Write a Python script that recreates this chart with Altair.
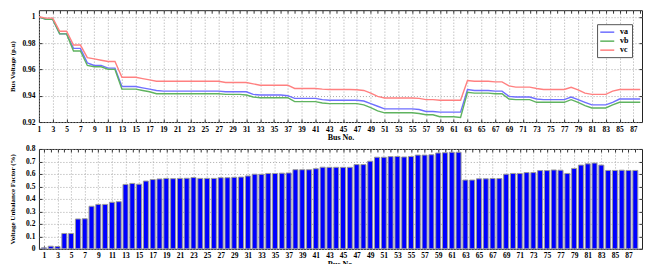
import altair as alt
import pandas as pd

bus = list(range(1, 90))
x_ticks = list(range(1, 90, 2))
phases = ["va", "vb", "vc"]
phase_colors = ["#6f6fff", "#5fb35f", "#ff8080"]
v_ticks = [0.92, 0.94, 0.96, 0.98, 1.0]
u_ticks = [0, 0.1, 0.2, 0.3, 0.4, 0.5, 0.6, 0.7, 0.8]

va = [1.000, 0.998, 0.998, 0.987, 0.987, 0.976, 0.976, 0.965, 0.963, 0.963,
      0.961, 0.961, 0.947, 0.947, 0.947, 0.946, 0.945, 0.944, 0.9435, 0.9435,
      0.9435, 0.9435, 0.9435, 0.9435, 0.9435, 0.9435, 0.9435, 0.943, 0.943, 0.943,
      0.943, 0.941, 0.9405, 0.9405, 0.9405, 0.9405, 0.940, 0.938, 0.938, 0.938,
      0.938, 0.937, 0.9365, 0.9365, 0.9365, 0.9365, 0.9365, 0.936, 0.934, 0.932,
      0.930, 0.930, 0.930, 0.930, 0.930, 0.9295, 0.928, 0.928, 0.9275, 0.9275,
      0.9275, 0.9275, 0.9447, 0.944, 0.944, 0.944, 0.9435, 0.9435, 0.9395, 0.939,
      0.939, 0.939, 0.9375, 0.937, 0.937, 0.937, 0.937, 0.939, 0.937, 0.935,
      0.933, 0.933, 0.933, 0.935, 0.9375, 0.9375, 0.9375, 0.9375, 0.9375]

vb = [1.000, 0.998, 0.998, 0.987, 0.987, 0.974, 0.974, 0.963, 0.962, 0.962,
      0.960, 0.960, 0.945, 0.945, 0.945, 0.944, 0.943, 0.9415, 0.9415, 0.9415,
      0.9415, 0.9415, 0.9415, 0.9415, 0.9415, 0.9415, 0.9415, 0.941, 0.941, 0.941,
      0.9405, 0.939, 0.9385, 0.9385, 0.9385, 0.9385, 0.9385, 0.9355, 0.9355, 0.9355,
      0.9355, 0.9345, 0.934, 0.934, 0.934, 0.934, 0.934, 0.933, 0.931, 0.9285,
      0.927, 0.927, 0.927, 0.927, 0.927, 0.9265, 0.9255, 0.9255, 0.924, 0.924,
      0.924, 0.9235, 0.9426, 0.942, 0.942, 0.942, 0.9415, 0.9415, 0.9375, 0.937,
      0.937, 0.937, 0.935, 0.935, 0.935, 0.935, 0.935, 0.937, 0.935, 0.9325,
      0.9307, 0.9307, 0.9307, 0.933, 0.935, 0.935, 0.935, 0.935, 0.935]

vc = [1.000, 0.999, 0.999, 0.989, 0.989, 0.9785, 0.9785, 0.969, 0.968, 0.967,
      0.966, 0.966, 0.954, 0.954, 0.954, 0.953, 0.952, 0.951, 0.951, 0.951,
      0.951, 0.951, 0.951, 0.951, 0.951, 0.951, 0.951, 0.950, 0.950, 0.950,
      0.950, 0.949, 0.948, 0.948, 0.948, 0.948, 0.948, 0.9455, 0.9455, 0.9455,
      0.9455, 0.945, 0.9447, 0.9447, 0.9447, 0.9447, 0.9445, 0.944, 0.942, 0.9395,
      0.9383, 0.9383, 0.9383, 0.9383, 0.9383, 0.938, 0.937, 0.937, 0.9365, 0.9365,
      0.9365, 0.9365, 0.9516, 0.951, 0.951, 0.951, 0.9505, 0.9505, 0.9475, 0.9465,
      0.9465, 0.9465, 0.9455, 0.9447, 0.9447, 0.9447, 0.9447, 0.9464, 0.9445, 0.942,
      0.941, 0.941, 0.941, 0.9435, 0.9447, 0.9447, 0.9447, 0.9447, 0.9447]

vuf = [0.008, 0.021, 0.018, 0.123, 0.123, 0.239, 0.241, 0.341, 0.356, 0.356,
       0.373, 0.378, 0.516, 0.524, 0.518, 0.543, 0.555, 0.560, 0.564, 0.562,
       0.564, 0.565, 0.571, 0.564, 0.564, 0.564, 0.570, 0.570, 0.573, 0.575,
       0.584, 0.598, 0.597, 0.604, 0.604, 0.606, 0.608, 0.634, 0.634, 0.634,
       0.642, 0.654, 0.653, 0.653, 0.653, 0.653, 0.675, 0.675, 0.702, 0.734,
       0.734, 0.739, 0.740, 0.736, 0.740, 0.751, 0.751, 0.754, 0.768, 0.770,
       0.774, 0.774, 0.551, 0.551, 0.561, 0.561, 0.563, 0.563, 0.598, 0.604,
       0.604, 0.611, 0.611, 0.627, 0.627, 0.632, 0.630, 0.604, 0.644, 0.671,
       0.681, 0.687, 0.671, 0.628, 0.628, 0.630, 0.628, 0.628, 0.628]

FONT = "Liberation Serif"
W = 604
X_END = 88.25  # the reference image crops the chart just past bus 88

df_v = pd.DataFrame({
    "bus": bus * 3,
    "v": va + vb + vc,
    "phase": ["va"] * len(bus) + ["vb"] * len(bus) + ["vc"] * len(bus),
})
df_u = pd.DataFrame({"bus": bus, "vuf": vuf})

in_view = alt.datum.bus <= X_END

xs = alt.Scale(domain=[1, X_END], nice=False, zero=False)
ys_v = alt.Scale(domain=[0.92, 1.005], nice=False, zero=False)
ys_u = alt.Scale(domain=[0, 0.8], nice=False, zero=False)

x_lab = [t for t in x_ticks if t <= X_END]
x_all = [b for b in bus if b <= X_END]


def bottom_axis():
    return alt.Axis(values=x_lab, title="Bus No.", orient="bottom", offset=-3,
                    tickSize=3, domain=False, grid=True, labelFlush=False,
                    labelPadding=3, titlePadding=1)


def top_axis():
    return alt.Axis(values=x_all, title=None, orient="top", offset=-3, tickSize=3,
                    domain=False, grid=False, labels=False)


def right_axis(vals):
    return alt.Axis(values=vals, title=None, orient="right", offset=-3, tickSize=3,
                    domain=False, grid=False, labels=False)


lines = alt.Chart(df_v).transform_filter(in_view).mark_line(strokeWidth=1.4, clip=True).encode(
    x=alt.X("bus:Q", scale=xs, axis=bottom_axis()),
    y=alt.Y("v:Q", scale=ys_v,
            axis=alt.Axis(values=v_ticks, format="~g", title="Bus Voltage (p.u)",
                          offset=-3, tickSize=3, domain=False, labelPadding=4,
                          titleX=-26, titleFontSize=7, grid=True)),
    color=alt.Color("phase:N",
                    scale=alt.Scale(domain=phases, range=phase_colors),
                    legend=alt.Legend(title=None, orient="none", legendX=559, legendY=14,
                                      symbolType="M-1.2,0H2.3", symbolSize=64,
                                      symbolStrokeWidth=1.5, rowPadding=0,
                                      labelOffset=10, padding=3, strokeColor="#555555",
                                      fillColor="white", labelFont=FONT,
                                      labelFontWeight="bold", labelFontSize=8,
                                      labelColor="black")),
)

frame_v = alt.Chart(df_v).transform_filter(in_view).mark_point(opacity=0).encode(
    x=alt.X("bus:Q", scale=xs, axis=top_axis()),
    y=alt.Y("v:Q", scale=ys_v, axis=right_axis(v_ticks)),
)

top = alt.layer(lines, frame_v).resolve_axis(x="independent", y="independent").properties(
    width=W, height=112)

bars = alt.Chart(df_u).transform_filter(in_view).mark_bar(
    size=5, color="#0000ff", stroke="#9a9a9a", strokeWidth=1, clip=True
).encode(
    x=alt.X("bus:Q", scale=xs, axis=bottom_axis()),
    y=alt.Y("vuf:Q", scale=ys_u,
            axis=alt.Axis(values=u_ticks, format=".1~f",
                          title="Voltage Unbalance Factor (%)", offset=-3, tickSize=3,
                          domain=False, labelPadding=4, titleX=-26, titleFontSize=7,
                          grid=True)),
)

frame_u = alt.Chart(df_u).transform_filter(in_view).mark_point(opacity=0).encode(
    x=alt.X("bus:Q", scale=xs, axis=top_axis()),
    y=alt.Y("vuf:Q", scale=ys_u, axis=right_axis(u_ticks)),
)

bottom = alt.layer(bars, frame_u).resolve_axis(x="independent", y="independent").properties(
    width=W, height=100)

chart = alt.vconcat(top, bottom, spacing=27, bounds="flush").properties(
    padding={"left": 0, "top": 1, "right": 0, "bottom": 0}
).configure_axis(
    labelFont=FONT, labelFontWeight="bold", labelFontSize=7.5, labelColor="black",
    titleFont=FONT, titleFontWeight="bold", titleFontSize=8, titleColor="black",
    gridColor="#a8a8a8", gridDash=[1, 2], gridWidth=1, tickColor="#333333",
).configure_view(stroke="#222222", strokeWidth=1)

chart.save("out.html", embed_options={"renderer": "svg", "actions": False})
